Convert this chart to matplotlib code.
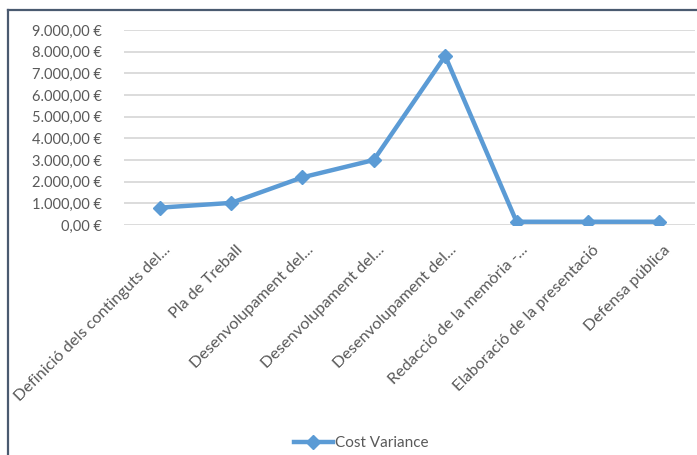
import matplotlib
matplotlib.use("Agg")
import matplotlib.pyplot as plt
from matplotlib.lines import Line2D
from matplotlib.ticker import FuncFormatter
import matplotlib.transforms as mtransforms

plt.rcParams['font.family'] = ['Lato', 'DejaVu Sans']

categories = ["Definició dels continguts del...", "Pla de Treball", "Desenvolupament del...",
              "Desenvolupament del...", "Desenvolupament del...", "Redacció de la memòria -...",
              "Elaboració de la presentació", "Defensa pública"]
cost_variance = [800, 1020, 2200, 3000, 7800, 150, 150, 150]
y_ticks = [0, 1000, 2000, 3000, 4000, 5000, 6000, 7000, 8000, 9000]

W, H = 697, 455
fig = plt.figure(figsize=(W / 100, H / 100), dpi=100)
ax = fig.add_axes([124 / W, 1 - 225 / H, (695 - 124) / W, (225 - 30) / H])

x = list(range(len(categories)))
ax.plot(x, cost_variance, color='#5B9BD5', lw=3.2, marker='D', markersize=7,
        label='Cost Variance', solid_joinstyle='round', zorder=3)

ax.set_xlim(-0.5, len(categories) - 0.5)
ax.set_ylim(0, 9000)
ax.set_yticks(y_ticks)

def fmt(v, pos):
    s = f"{v:,.2f}".replace(",", "X").replace(".", ",").replace("X", ".")
    return s + " €"

ax.yaxis.set_major_formatter(FuncFormatter(fmt))
ax.grid(axis='y', color='#D9D9D9', lw=1.3)
ax.set_axisbelow(True)
for s in ax.spines.values():
    s.set_visible(False)
ax.tick_params(axis='both', length=0, colors='#595959')
ax.tick_params(axis='y', pad=16, labelsize=10.5)
ax.tick_params(axis='x', pad=13, labelsize=11.7)
ax.set_xticks(x)
ax.set_xticklabels(categories, rotation=45, ha='right', va='top', rotation_mode='anchor')
offset = mtransforms.ScaledTranslation(4 / 100, 0, fig.dpi_scale_trans)
for lbl in ax.get_xticklabels():
    lbl.set_transform(lbl.get_transform() + offset)

leg = fig.legend(loc='center', bbox_to_anchor=(361 / W, 1 - 443 / H), frameon=False,
                 fontsize=11, handlelength=2.6, handletextpad=0.1, labelcolor='#595959')

# outer frame (top and left edges visible)
fig.add_artist(Line2D([8 / W, 8 / W], [0, 1 - 10 / H], color='#4A5A70', lw=1.6,
                      transform=fig.transFigure))
fig.add_artist(Line2D([8 / W, 1], [1 - 10 / H, 1 - 10 / H], color='#4A5A70', lw=1.6,
                      transform=fig.transFigure))

fig.savefig('out.png', dpi=100, facecolor='white')
